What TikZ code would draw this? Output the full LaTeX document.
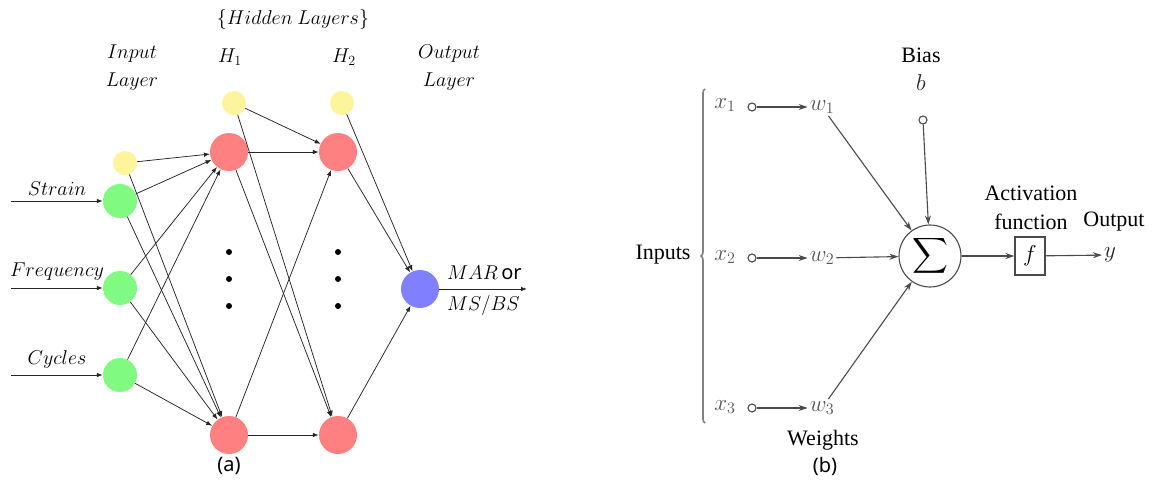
\RequirePackage{fix-cm}
\documentclass[tikz,border=0pt]{standalone}
\usepackage{amsmath}
\usepackage{fontspec}
\setmainfont{Liberation Serif}
\newfontfamily\labfont{Noto Sans}
\usetikzlibrary{arrows.meta,decorations.pathreplacing}
\definecolor{ngreen}{HTML}{80FA80}
\definecolor{nred}{HTML}{FF8080}
\definecolor{nyellow}{HTML}{FFF39C}
\definecolor{nblue}{HTML}{8080FF}
\definecolor{bgray}{HTML}{4A4A4A}
\definecolor{mgray}{HTML}{555555}
\definecolor{brgray}{HTML}{808080}
\begin{document}
\begin{tikzpicture}[x=1pt,y=-1pt,
  neuron/.style={circle,inner sep=0pt,draw=none},
  ylw/.style={neuron,fill=nyellow,minimum size=24pt},
  grn/.style={neuron,fill=ngreen,minimum size=34pt},
  rd/.style={neuron,fill=nred,minimum size=38pt},
  blu/.style={neuron,fill=nblue,minimum size=38pt},
  dotn/.style={circle,fill=black,inner sep=0pt,minimum size=6pt},
  ea/.style={-{Latex[length=6pt,width=4.5pt]},line width=0.75pt,black!85},
  la/.style={font=\fontsize{20}{24}\selectfont,inner sep=1pt},
  eb/.style={-{Stealth[length=9pt,width=6pt]},line width=1.1pt,bgray},
  tb/.style={font=\fontsize{22}{26}\selectfont,inner sep=2pt},
  mb/.style={font=\fontsize{23}{27}\selectfont,text=mgray,inner sep=2pt},
  smallc/.style={circle,draw=bgray,line width=1.1pt,fill=white,inner sep=0pt,minimum size=8pt},
  capl/.style={font=\labfont\fontsize{20}{24}\selectfont,inner sep=0pt}
]
\useasboundingbox (0,0) rectangle (1153,480);
\fill[white] (0,0) rectangle (1153,480);

% ---------- panel (a) ----------
\node[la] (thl) at (293,19) {$\{Hidden\ Layers\}$};
\node[la] (tin) at (132,54) {$Input$};
\node[la] (til) at (132,82) {$Layer$};
\node[la] (th1) at (230,57) {$H_1$};
\node[la] (th2) at (344,57) {$H_2$};
\node[la] (tou) at (449,54) {$Output$};
\node[la] (tol) at (449,82) {$Layer$};

\node[ylw] (b0) at (125,163) {};
\node[grn] (i1) at (120,201) {};
\node[grn] (i2) at (120,288) {};
\node[grn] (i3) at (120,375) {};
\node[ylw] (hb1) at (234,103) {};
\node[ylw] (hb2) at (342,103) {};
\node[rd] (h1a) at (229,152) {};
\node[rd] (h1b) at (229,435) {};
\node[rd] (h2a) at (338,152) {};
\node[rd] (h2b) at (338,435) {};
\node[blu] (o) at (420,289) {};

\node[dotn] (d11) at (229,252) {};
\node[dotn] (d12) at (229,279) {};
\node[dotn] (d13) at (229,306) {};
\node[dotn] (d21) at (338,252) {};
\node[dotn] (d22) at (338,279) {};
\node[dotn] (d23) at (338,306) {};

\coordinate (s1) at (11,201);
\coordinate (s2) at (11,288);
\coordinate (s3) at (11,375);
\coordinate (oe) at (527,289);
\node[la] (lstr) at (57,189) {$Strain$};
\node[la] (lfrq) at (57,272) {$Frequency$};
\node[la] (lcyc) at (57,359) {$Cycles$};
\node[la,anchor=west] (lmar) at (446,273) {$MAR$\,{\labfont or}};
\node[la,anchor=west] (lmsb) at (446,305) {$MS/BS$};

\draw[ea] (s1) -- (i1);
\draw[ea] (s2) -- (i2);
\draw[ea] (s3) -- (i3);
\draw[ea] (o) -- (oe);

\draw[ea] (b0) -- (h1a);
\draw[ea] (b0) -- (h1b);
\draw[ea] (i1) -- (h1a);
\draw[ea] (i1) -- (h1b);
\draw[ea] (i2) -- (h1a);
\draw[ea] (i2) -- (h1b);
\draw[ea] (i3) -- (h1a);
\draw[ea] (i3) -- (h1b);
\draw[ea] (hb1) -- (h2a);
\draw[ea] (hb1) -- (h2b);
\draw[ea] (h1a) -- (h2a);
\draw[ea] (h1a) -- (h2b);
\draw[ea] (h1b) -- (h2a);
\draw[ea] (h1b) -- (h2b);
\draw[ea] (hb2) -- (o);
\draw[ea] (h2a) -- (o);
\draw[ea] (h2b) -- (o);

\node[capl] (ca) at (229,466) {(a)};

% ---------- panel (b) ----------
\node[tb] (inp) at (663,255) {Inputs};
\draw[brgray,line width=1.6pt,decorate,decoration={brace,amplitude=4pt}] (705,423) -- (705,89);

\node[mb] (x1) at (725,105) {$x_1$};
\node[mb] (x2) at (725,257) {$x_2$};
\node[mb] (x3) at (725,407) {$x_3$};
\node[smallc] (c1) at (752,107) {};
\node[smallc] (c2) at (752,258) {};
\node[smallc] (c3) at (752,408) {};
\node[mb] (w1) at (822,107) {$w_1$};
\node[mb] (w2) at (822,258) {$w_2$};
\node[mb] (w3) at (822,408) {$w_3$};
\draw[eb] (c1) -- (w1);
\draw[eb] (c2) -- (w2);
\draw[eb] (c3) -- (w3);

\node[tb] (wts) at (823,440) {Weights};
\node[tb] (bias) at (921,55) {Bias};
\node[mb,text=black!85] (bb) at (921,83) {$b$};
\node[smallc] (bc) at (923,120) {};

\node[circle,draw=bgray,line width=1.1pt,minimum size=62pt,inner sep=0pt,font=\fontsize{26}{30}\selectfont] (sig) at (930,256) {$\displaystyle\sum$};
\node[draw=bgray,line width=1.1pt,minimum width=30pt,minimum height=38pt,inner sep=0pt,font=\fontsize{23}{27}\selectfont] (f) at (1030,256) {$f$};
\node[mb,text=black!85] (y) at (1110,255) {$y$};

\draw[eb] (bc) -- (sig);
\draw[eb] (w1) -- (sig);
\draw[eb] (w2) -- (sig);
\draw[eb] (w3) -- (sig);
\draw[eb] (sig) -- (f);
\draw[eb] (f) -- (y);

\node[tb] (act) at (1031,193) {Activation};
\node[tb] (fun) at (1031,222) {function};
\node[tb] (out) at (1114,222) {Output};

\node[capl] (cb) at (825,466) {(b)};
\end{tikzpicture}
\end{document}
